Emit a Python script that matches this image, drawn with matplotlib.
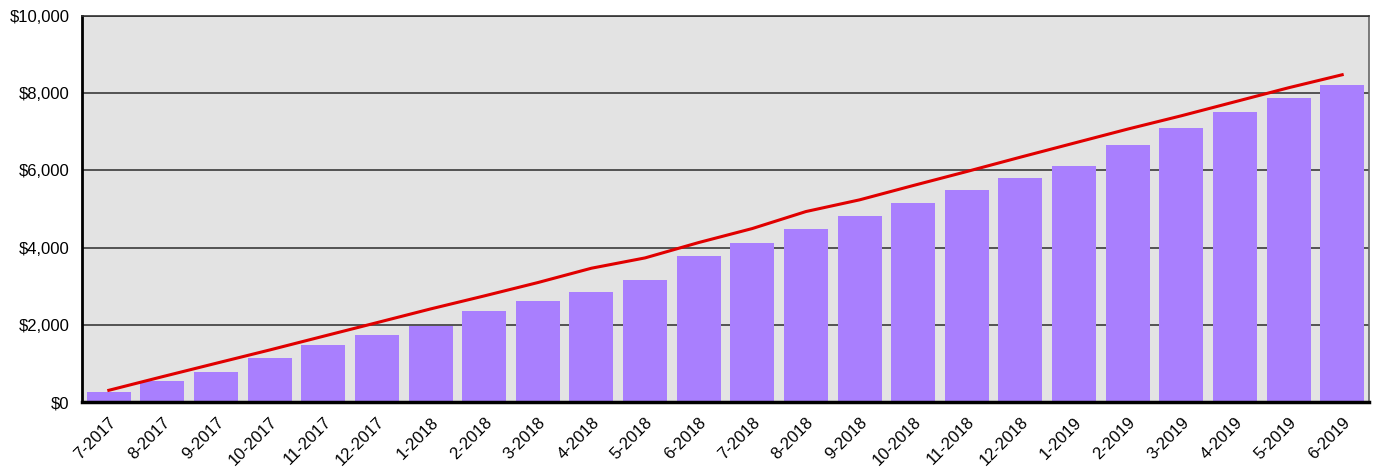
import matplotlib
matplotlib.use("Agg")
import matplotlib.pyplot as plt
from matplotlib.ticker import FuncFormatter

months = ["7-2017", "8-2017", "9-2017", "10-2017", "11-2017", "12-2017",
          "1-2018", "2-2018", "3-2018", "4-2018", "5-2018", "6-2018",
          "7-2018", "8-2018", "9-2018", "10-2018", "11-2018", "12-2018",
          "1-2019", "2-2019", "3-2019", "4-2019", "5-2019", "6-2019"]
bar_values = [260, 545, 780, 1140, 1478, 1737, 1978, 2359, 2619, 2852, 3163, 3785,
              4122, 4485, 4822, 5159, 5496, 5807, 6118, 6663, 7104, 7519, 7882, 8219]
line_values = [303, 656, 1003, 1348, 1703, 2056, 2411, 2748, 3094, 3466, 3733, 4131,
               4494, 4934, 5237, 5608, 5971, 6343, 6707, 7070, 7415, 7778, 8141, 8478]
y_ticks = [0, 2000, 4000, 6000, 8000, 10000]

plt.rcParams['font.family'] = ['Liberation Sans', 'DejaVu Sans']

fig = plt.figure(figsize=(13.74, 4.74), dpi=100)
ax = fig.add_axes([82/1374, 1 - 402/474, (1369-82)/1374, (402-16)/474])
ax.set_facecolor('#e3e3e3')

x = list(range(len(months)))
ax.bar(x, bar_values, width=0.82, color='#a97ffe', zorder=3)
ax.plot(x, line_values, color='#e00000', linewidth=2.2, zorder=4)

ax.set_xlim(-0.5, len(months) - 0.5)
ax.set_ylim(0, 10000)
ax.set_yticks(y_ticks)
ax.yaxis.set_major_formatter(FuncFormatter(lambda v, p: f"${v:,.0f}"))
ax.grid(axis='y', color='#3a3a3a', linewidth=1.2, zorder=1)
ax.set_xticks(x)
ax.set_xticklabels(months, rotation=45, ha='right', rotation_mode='anchor')
ax.tick_params(axis='both', length=0, labelsize=12, colors='black')
ax.tick_params(axis='x', pad=9)
ax.tick_params(axis='y', pad=9)

ax.spines['left'].set_linewidth(2)
ax.spines['bottom'].set_linewidth(2.5)
ax.spines['left'].set_color('black')
ax.spines['bottom'].set_color('black')
ax.spines['top'].set_color('#333333')
ax.spines['top'].set_linewidth(1.2)
ax.spines['right'].set_color('#666666')
ax.spines['right'].set_linewidth(1.2)
for s in ax.spines.values():
    s.set_zorder(5)

fig.savefig("out.png", dpi=100)
